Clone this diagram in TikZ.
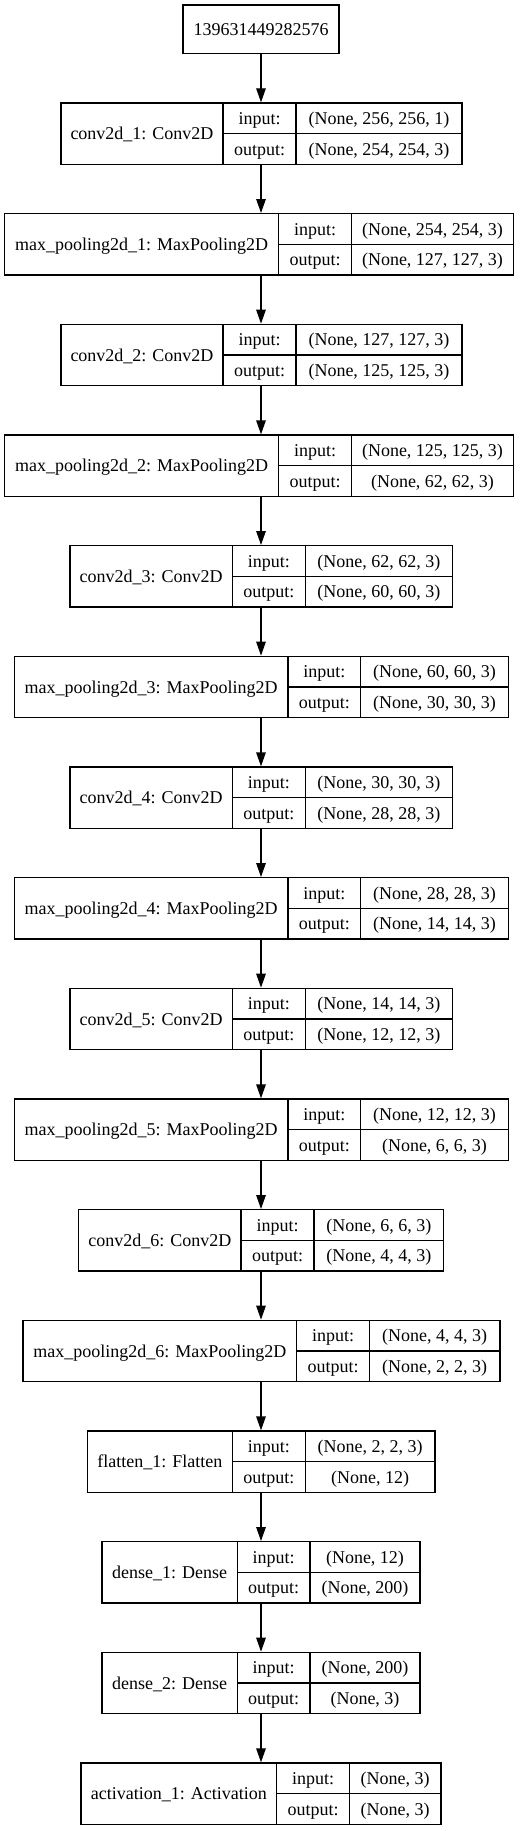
\documentclass[tikz,border=0pt]{standalone}
\usepackage{fontspec}
\setmainfont{Liberation Serif}
\usetikzlibrary{arrows.meta}
\begin{document}
\begin{tikzpicture}[x=1pt, y=-1pt,
  cell/.style={draw, line width=1.3pt, inner sep=0pt, anchor=center, font=\fontsize{18}{20}\selectfont, text height=12pt, text depth=0pt},
  tall/.style={cell, minimum height=61.33pt},
  half/.style={cell, minimum height=30.67pt},
  lab/.style={half, minimum width=73pt},
  arr/.style={line width=1.3pt, -{Triangle[length=14pt, width=9.5pt]}}]
\useasboundingbox (0,0) rectangle (527,1831);
\coordinate (axis) at (261,0);
\node[cell, minimum width=156pt, minimum height=48.5pt] (top) at (261,29.25){139631449282576};
% conv2d_1
\node[tall, minimum width=162pt] (conv1) at (142,133.67){conv2d\_1: Conv2D};
\node[lab] (conv1i) at (259.5,118.33){input:};
\node[lab] (conv1o) at (259.5,149){output:};
\node[half, minimum width=166pt] (conv1iv) at (379,118.33){(None, 256, 256, 1)};
\node[half, minimum width=166pt] (conv1ov) at (379,149){(None, 254, 254, 3)};
% max_pooling2d_1
\node[tall, minimum width=274pt] (pool1) at (141.7,244.33){max\_pooling2d\_1: MaxPooling2D};
\node[lab] (pool1i) at (315.2,229){input:};
\node[lab] (pool1o) at (315.2,259.67){output:};
\node[half, minimum width=161.6pt] (pool1iv) at (432.5,229){(None, 254, 254, 3)};
\node[half, minimum width=161.6pt] (pool1ov) at (432.5,259.67){(None, 127, 127, 3)};
% conv2d_2
\node[tall, minimum width=162pt] (conv2) at (142,355){conv2d\_2: Conv2D};
\node[lab] (conv2i) at (259.5,339.67){input:};
\node[lab] (conv2o) at (259.5,370.33){output:};
\node[half, minimum width=166pt] (conv2iv) at (379,339.67){(None, 127, 127, 3)};
\node[half, minimum width=166pt] (conv2ov) at (379,370.33){(None, 125, 125, 3)};
% max_pooling2d_2
\node[tall, minimum width=274pt] (pool2) at (141.7,465.67){max\_pooling2d\_2: MaxPooling2D};
\node[lab] (pool2i) at (315.2,450.33){input:};
\node[lab] (pool2o) at (315.2,481){output:};
\node[half, minimum width=161.6pt] (pool2iv) at (432.5,450.33){(None, 125, 125, 3)};
\node[half, minimum width=161.6pt] (pool2ov) at (432.5,481){(None, 62, 62, 3)};
% conv2d_3
\node[tall, minimum width=162.3pt] (conv3) at (151.2,576.33){conv2d\_3: Conv2D};
\node[lab] (conv3i) at (268.8,561){input:};
\node[lab] (conv3o) at (268.8,591.67){output:};
\node[half, minimum width=147pt] (conv3iv) at (378.8,561){(None, 62, 62, 3)};
\node[half, minimum width=147pt] (conv3ov) at (378.8,591.67){(None, 60, 60, 3)};
% max_pooling2d_3
\node[tall, minimum width=273.7pt] (pool3) at (151.2,687){max\_pooling2d\_3: MaxPooling2D};
\node[lab] (pool3i) at (324.3,671.67){input:};
\node[lab] (pool3o) at (324.3,702.33){output:};
\node[half, minimum width=147.6pt] (pool3iv) at (434.5,671.67){(None, 60, 60, 3)};
\node[half, minimum width=147.6pt] (pool3ov) at (434.5,702.33){(None, 30, 30, 3)};
% conv2d_4
\node[tall, minimum width=162.3pt] (conv4) at (151.2,797.67){conv2d\_4: Conv2D};
\node[lab] (conv4i) at (268.8,782.33){input:};
\node[lab] (conv4o) at (268.8,813){output:};
\node[half, minimum width=147pt] (conv4iv) at (378.8,782.33){(None, 30, 30, 3)};
\node[half, minimum width=147pt] (conv4ov) at (378.8,813){(None, 28, 28, 3)};
% max_pooling2d_4
\node[tall, minimum width=273.7pt] (pool4) at (151.2,908.33){max\_pooling2d\_4: MaxPooling2D};
\node[lab] (pool4i) at (324.3,893){input:};
\node[lab] (pool4o) at (324.3,923.67){output:};
\node[half, minimum width=147.6pt] (pool4iv) at (434.5,893){(None, 28, 28, 3)};
\node[half, minimum width=147.6pt] (pool4ov) at (434.5,923.67){(None, 14, 14, 3)};
% conv2d_5
\node[tall, minimum width=162.3pt] (conv5) at (151.2,1019){conv2d\_5: Conv2D};
\node[lab] (conv5i) at (268.8,1003.67){input:};
\node[lab] (conv5o) at (268.8,1034.33){output:};
\node[half, minimum width=147pt] (conv5iv) at (378.8,1003.67){(None, 14, 14, 3)};
\node[half, minimum width=147pt] (conv5ov) at (378.8,1034.33){(None, 12, 12, 3)};
% max_pooling2d_5
\node[tall, minimum width=273.7pt] (pool5) at (151.2,1129.67){max\_pooling2d\_5: MaxPooling2D};
\node[lab] (pool5i) at (324.3,1114.33){input:};
\node[lab] (pool5o) at (324.3,1145){output:};
\node[half, minimum width=147.6pt] (pool5iv) at (434.5,1114.33){(None, 12, 12, 3)};
\node[half, minimum width=147.6pt] (pool5ov) at (434.5,1145){(None, 6, 6, 3)};
% conv2d_6
\node[tall, minimum width=162.3pt] (conv6) at (159.8,1240.33){conv2d\_6: Conv2D};
\node[lab] (conv6i) at (277.5,1225){input:};
\node[lab] (conv6o) at (277.5,1255.67){output:};
\node[half, minimum width=129.7pt] (conv6iv) at (378.8,1225){(None, 6, 6, 3)};
\node[half, minimum width=129.7pt] (conv6ov) at (378.8,1255.67){(None, 4, 4, 3)};
% max_pooling2d_6
\node[tall, minimum width=273.7pt] (pool6) at (159.8,1351){max\_pooling2d\_6: MaxPooling2D};
\node[lab] (pool6i) at (333,1335.67){input:};
\node[lab] (pool6o) at (333,1366.33){output:};
\node[half, minimum width=130.7pt] (pool6iv) at (434.7,1335.67){(None, 4, 4, 3)};
\node[half, minimum width=130.7pt] (pool6ov) at (434.7,1366.33){(None, 2, 2, 3)};
% flatten_1
\node[tall, minimum width=145pt] (flat) at (159.8,1461.67){flatten\_1: Flatten};
\node[lab] (flati) at (268.8,1446.33){input:};
\node[lab] (flato) at (268.8,1477){output:};
\node[half, minimum width=129.7pt] (flativ) at (370.2,1446.33){(None, 2, 2, 3)};
\node[half, minimum width=129.7pt] (flatov) at (370.2,1477){(None, 12)};
% dense_1
\node[tall, minimum width=135.3pt] (dense1) at (169.7,1572.33){dense\_1: Dense};
\node[lab] (dense1i) at (273.7,1557){input:};
\node[lab] (dense1o) at (273.7,1587.67){output:};
\node[half, minimum width=110pt] (dense1iv) at (365,1557){(None, 12)};
\node[half, minimum width=110pt] (dense1ov) at (365,1587.67){(None, 200)};
% dense_2
\node[tall, minimum width=135.3pt] (dense2) at (169.7,1683){dense\_2: Dense};
\node[lab] (dense2i) at (273.7,1667.67){input:};
\node[lab] (dense2o) at (273.7,1698.33){output:};
\node[half, minimum width=110pt] (dense2iv) at (365,1667.67){(None, 200)};
\node[half, minimum width=110pt] (dense2ov) at (365,1698.33){(None, 3)};
% activation_1
\node[tall, minimum width=195.7pt] (act) at (178.8,1793.67){activation\_1: Activation};
\node[lab] (acti) at (313,1778.33){input:};
\node[lab] (acto) at (313,1809){output:};
\node[half, minimum width=91.7pt] (activ) at (395.2,1778.33){(None, 3)};
\node[half, minimum width=91.7pt] (actov) at (395.2,1809){(None, 3)};
% arrows
\draw[arr] (top.south -| axis) -- (conv1i.north -| axis);
\draw[arr] (conv1o.south -| axis) -- (pool1i.north -| axis);
\draw[arr] (pool1o.south -| axis) -- (conv2i.north -| axis);
\draw[arr] (conv2o.south -| axis) -- (pool2i.north -| axis);
\draw[arr] (pool2o.south -| axis) -- (conv3i.north -| axis);
\draw[arr] (conv3o.south -| axis) -- (pool3i.north -| axis);
\draw[arr] (pool3o.south -| axis) -- (conv4i.north -| axis);
\draw[arr] (conv4o.south -| axis) -- (pool4i.north -| axis);
\draw[arr] (pool4o.south -| axis) -- (conv5i.north -| axis);
\draw[arr] (conv5o.south -| axis) -- (pool5i.north -| axis);
\draw[arr] (pool5o.south -| axis) -- (conv6i.north -| axis);
\draw[arr] (conv6o.south -| axis) -- (pool6i.north -| axis);
\draw[arr] (pool6o.south -| axis) -- (flati.north -| axis);
\draw[arr] (flato.south -| axis) -- (dense1i.north -| axis);
\draw[arr] (dense1o.south -| axis) -- (dense2i.north -| axis);
\draw[arr] (dense2o.south -| axis) -- (acti.north -| axis);
\end{tikzpicture}
\end{document}
